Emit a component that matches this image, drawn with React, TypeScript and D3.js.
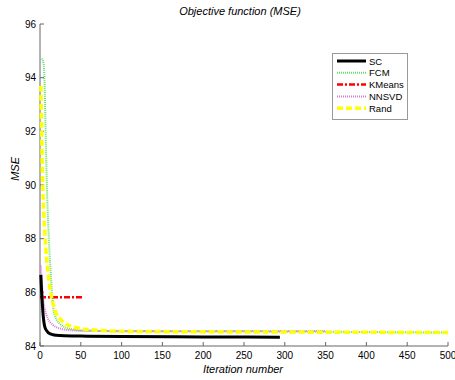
import React from "react";
import * as d3 from "d3";

const W = 455, H = 380;
const M = { left: 40, right: 7, top: 24, bottom: 34 };

const xTicks = [0, 50, 100, 150, 200, 250, 300, 350, 400, 450, 500];
const yTicks = [84, 86, 88, 90, 92, 94, 96];

const scIter = [1, 2, 3, 4, 5, 6, 8, 10, 12, 16, 20, 30, 50, 100, 200, 294];
const scVal = [86.65, 86.0, 85.5, 85.1, 84.85, 84.7, 84.58, 84.5, 84.46, 84.42, 84.4, 84.38, 84.37, 84.35, 84.34, 84.33];

const fcmIter = [2, 3, 4, 5, 6, 7, 8, 9, 10, 11, 12, 13, 14, 15, 16, 18, 20, 25, 30, 40, 50, 100, 200, 350, 500];
const fcmVal = [94.7, 94.68, 94.6, 94.3, 93.3, 91.8, 90.5, 89.4, 88.6, 87.9, 87.3, 86.8, 86.3, 85.9, 85.5, 85.15, 85.0, 84.8, 84.7, 84.62, 84.58, 84.55, 84.54, 84.53, 84.5];

const kmIter = [0, 53];
const kmVal = [85.82, 85.82];

const nnIter = [1, 2, 3, 4, 5, 6, 8, 10, 12, 15, 20, 25, 30, 40, 50, 100, 200, 350];
const nnVal = [87.0, 86.5, 86.05, 85.75, 85.5, 85.35, 85.15, 85.0, 84.9, 84.8, 84.7, 84.65, 84.61, 84.58, 84.57, 84.56, 84.56, 84.56];

const rdIter = [1, 2, 3, 4, 5, 6, 8, 10, 12, 15, 18, 20, 25, 30, 40, 50, 75, 100, 200, 300, 500];
const rdVal = [93.7, 92.0, 90.5, 89.4, 88.7, 88.2, 87.3, 86.7, 86.2, 85.7, 85.35, 85.2, 85.0, 84.85, 84.72, 84.65, 84.58, 84.55, 84.53, 84.52, 84.5];

const series = [
  { name: "SC", iter: scIter, val: scVal, color: "#000000", width: 3, dash: "" },
  { name: "FCM", iter: fcmIter, val: fcmVal, color: "#66dd66", width: 2, dash: "1,1" },
  { name: "KMeans", iter: kmIter, val: kmVal, color: "#ff0000", width: 2.5, dash: "6,2,2,2" },
  { name: "NNSVD", iter: nnIter, val: nnVal, color: "#dd77dd", width: 2, dash: "1,1" },
  { name: "Rand", iter: rdIter, val: rdVal, color: "#ffff00", width: 3.5, dash: "6,3" },
];

export default function App() {
  const x = d3.scaleLinear().domain([0, 500]).range([M.left, W - M.right]);
  const y = d3.scaleLinear().domain([84, 96]).range([H - M.bottom, M.top]);
  const line = d3.line<[number, number]>().x((d) => x(d[0])).y((d) => y(d[1])).curve(d3.curveMonotoneX);
  const font = "'Liberation Sans', Arial, sans-serif";
  const order = [0, 1, 2, 3, 4];
  const drawOrder = [1, 2, 3, 4, 0];
  return (
    <svg width={W} height={H} style={{ position: "absolute", left: 0, top: 0, background: "#fff" }} fontFamily={font}>
      <rect x={0} y={0} width={W} height={H} fill="#fff" />
      <text x={240} y={15} fontSize={11} fontStyle="italic" textAnchor="middle">Objective function (MSE)</text>
      <text x={243} y={373} fontSize={11} fontStyle="italic" textAnchor="middle">Iteration number</text>
      <text transform={`translate(19,${y(90.6)}) rotate(-90)`} fontSize={11} fontStyle="italic" textAnchor="middle">MSE</text>
      <line x1={x(0)} x2={x(0)} y1={y(84)} y2={y(96)} stroke="#666" strokeWidth={1} />
      <line x1={x(0)} x2={x(500)} y1={y(84)} y2={y(84)} stroke="#666" strokeWidth={1} />
      {yTicks.map((t) => (
        <g key={"y" + t}>
          <line x1={x(0)} x2={x(0) + 4} y1={y(t)} y2={y(t)} stroke="#666" />
          <text x={x(0) - 4} y={y(t) + 3.5} fontSize={10} textAnchor="end">{t}</text>
        </g>
      ))}
      {xTicks.map((t) => (
        <g key={"x" + t}>
          <line x1={x(t)} x2={x(t)} y1={y(84)} y2={y(84) - 4} stroke="#666" />
          <text x={x(t)} y={y(84) + 13} fontSize={10} textAnchor="middle">{t}</text>
        </g>
      ))}
      {drawOrder.map((i) => {
        const s = series[i];
        const pts = s.iter.map((it, k) => [it, s.val[k]] as [number, number]);
        return (
          <path key={s.name} d={line(pts) || ""} fill="none" stroke={s.color} strokeWidth={s.width} strokeDasharray={s.dash} />
        );
      })}
      <rect x={332.5} y={53.5} width={75} height={66} fill="#fff" stroke="#999" />
      {order.map((i, k) => {
        const s = series[i];
        const ly = 61 + k * 11.8;
        return (
          <g key={"lg" + s.name}>
            <line x1={337} x2={366} y1={ly} y2={ly} stroke={s.color} strokeWidth={s.width} strokeDasharray={s.dash} />
            <text x={369} y={ly + 3.5} fontSize={9.5}>{s.name}</text>
          </g>
        );
      })}
    </svg>
  );
}
